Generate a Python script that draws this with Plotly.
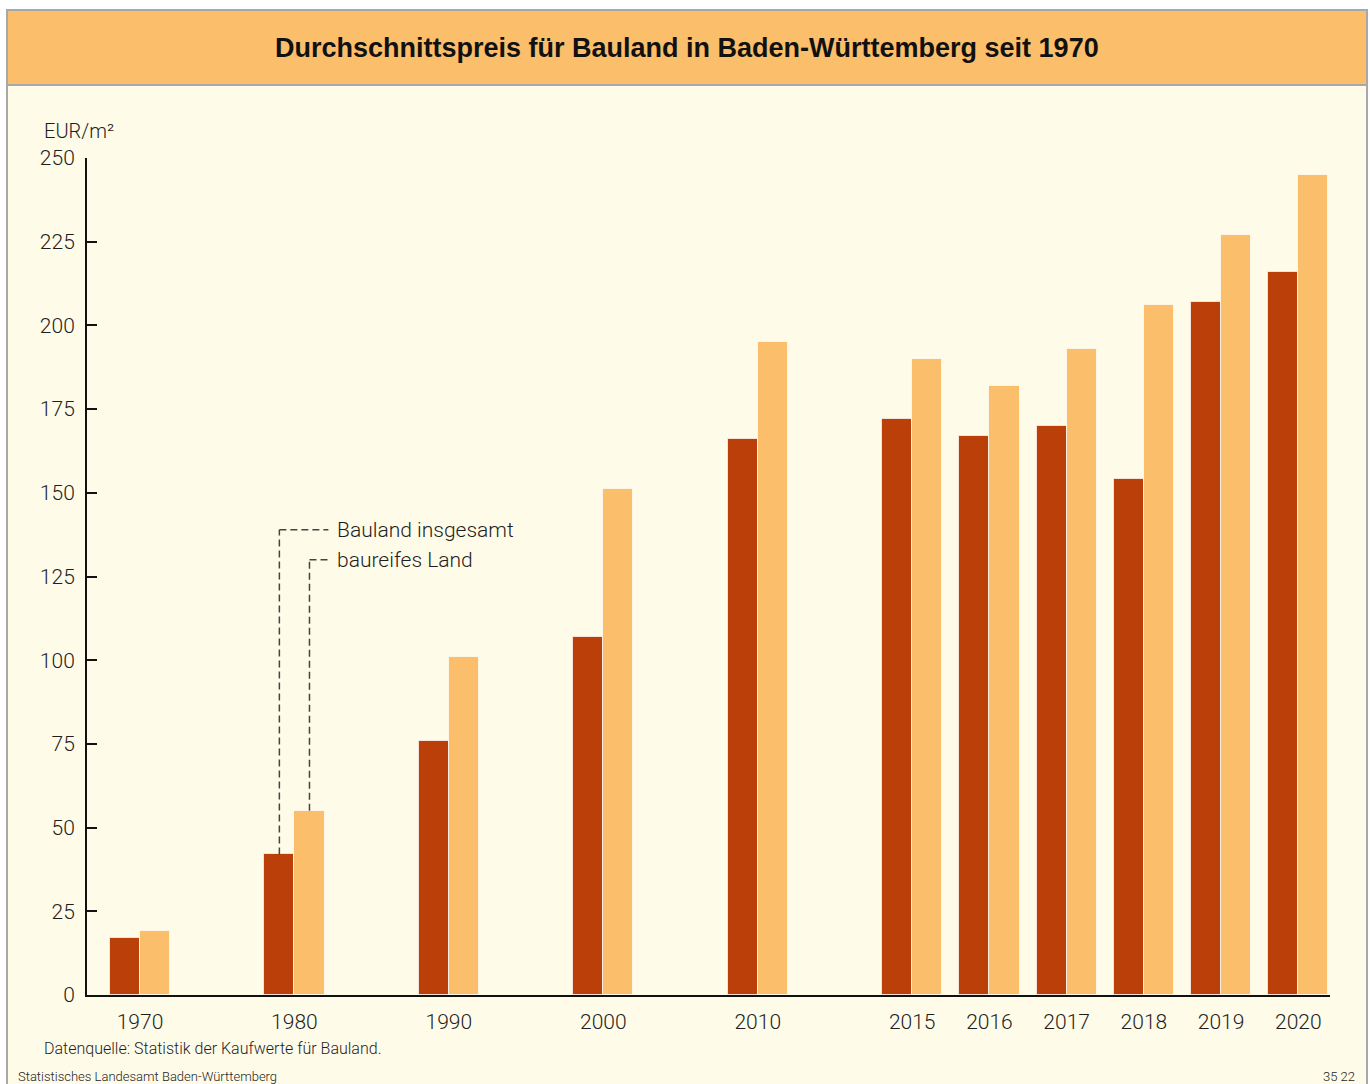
import plotly.graph_objects as go

years = ["1970", "1980", "1990", "2000", "2010", "2015", "2016", "2017", "2018", "2019", "2020"]
xpos = [0, 2, 4, 6, 8, 10, 11, 12, 13, 14, 15]
bauland_insgesamt = [17, 42, 76, 107, 166, 172, 167, 170, 154, 207, 216]
baureifes_land = [19, 55, 101, 151, 195, 190, 182, 193, 206, 227, 245]
y_ticks = [0, 25, 50, 75, 100, 125, 150, 175, 200, 225, 250]

DARK = "#BA3F08"
LIGHT = "#FBBE6A"
BG = "#FFFBE9"
FONT = "Roboto"
TXT = "#1E1E1E"

W = 0.39
fig = go.Figure()
fig.add_trace(go.Bar(x=xpos, y=bauland_insgesamt, width=W, offset=-W, name="Bauland insgesamt",
                     marker=dict(color=DARK, line=dict(color="rgba(255,255,255,0.7)", width=1))))
fig.add_trace(go.Bar(x=xpos, y=baureifes_land, width=W, offset=0, name="baureifes Land",
                     marker=dict(color=LIGHT, line=dict(color="rgba(255,255,255,0.7)", width=1))))

# pixel -> paper helpers
L, R, T, B = 87, 1330, 158, 995
def px(x):
    return (x - L) / (R - L)
def py(y):
    return (B - y) / (B - T)

shapes = [
    dict(type="rect", xref="paper", yref="paper", x0=px(7), x1=px(1367), y0=py(1090), y1=py(10),
         fillcolor=BG, line=dict(color="#A8A8A8", width=2), layer="below"),
    dict(type="rect", xref="paper", yref="paper", x0=px(7), x1=px(1367), y0=py(85), y1=py(10),
         fillcolor=LIGHT, line=dict(color="#A8A8A8", width=2), layer="below"),
]

# leader lines for annotation (1980 bars)
i80 = years.index("1980")
xd = xpos[i80] - W / 2
xl = xpos[i80] + W / 2
xend = 2.44
ya, yb = 139, 130
dash = dict(color="#444444", width=1.5, dash="7px,4px")
shapes += [
    dict(type="line", xref="x", yref="y", x0=xd, x1=xd, y0=bauland_insgesamt[i80], y1=ya, line=dash),
    dict(type="line", xref="x", yref="y", x0=xd, x1=xend, y0=ya, y1=ya, line=dash),
    dict(type="line", xref="x", yref="y", x0=xl, x1=xl, y0=baureifes_land[i80], y1=yb, line=dash),
    dict(type="line", xref="x", yref="y", x0=xl, x1=xend, y0=yb, y1=yb, line=dash),
]

annotations = [
    dict(text="<b>Durchschnittspreis für Bauland in Baden-Württemberg seit 1970</b>", xref="paper", yref="paper",
         x=px(687), y=py(48), showarrow=False, xanchor="center", yanchor="middle",
         font=dict(family="Liberation Sans", size=27, color="#111111")),
    dict(text="EUR/m²", xref="paper", yref="paper", x=px(42), y=py(131), showarrow=False,
         xanchor="left", yanchor="middle", font=dict(family=FONT, size=20, color=TXT, weight=300)),
    dict(text="Bauland insgesamt", xref="x", yref="y", x=2.53, y=ya, showarrow=False,
         xanchor="left", yanchor="middle", font=dict(family=FONT, size=21, color=TXT, weight=300)),
    dict(text="baureifes Land", xref="x", yref="y", x=2.53, y=yb, showarrow=False,
         xanchor="left", yanchor="middle", font=dict(family=FONT, size=21, color=TXT, weight=300)),
    dict(text="Datenquelle: Statistik der Kaufwerte für Bauland.", xref="paper", yref="paper",
         x=px(42), y=py(1048), showarrow=False, xanchor="left", yanchor="middle",
         font=dict(family=FONT, size=16, color=TXT, weight=300)),
    dict(text="Statistisches Landesamt Baden-Württemberg", xref="paper", yref="paper",
         x=px(16), y=py(1076), showarrow=False, xanchor="left", yanchor="middle",
         font=dict(family=FONT, size=13, color=TXT, weight=300)),
    dict(text="35 22", xref="paper", yref="paper",
         x=px(1357), y=py(1076), showarrow=False, xanchor="right", yanchor="middle",
         font=dict(family=FONT, size=13, color=TXT, weight=300)),
]

fig.update_layout(
    width=1370, height=1084,
    margin=dict(l=L, r=1370 - R, t=T, b=1084 - B, pad=0),
    paper_bgcolor="white", plot_bgcolor=BG,
    showlegend=False,
    bargap=0,
    shapes=shapes,
    annotations=annotations,
    font=dict(family=FONT, size=20, color=TXT),
    xaxis=dict(
        range=[-0.686, 15.41], tickmode="array", tickvals=xpos, ticktext=years,
        showgrid=False, zeroline=False, showline=True, linecolor="#111111", linewidth=2,
        ticks="", tickfont=dict(family=FONT, size=21, color=TXT, weight=300), ticklabelstandoff=7,
    ),
    yaxis=dict(
        range=[0, 250], tickmode="array", tickvals=y_ticks,
        showgrid=False, zeroline=False, showline=True, linecolor="#111111", linewidth=2,
        ticks="inside", ticklen=10, tickwidth=2, tickcolor="#111111",
        tickfont=dict(family=FONT, size=21, color=TXT, weight=300), ticklabelstandoff=6,
    ),
)

fig.write_html("out.html")
